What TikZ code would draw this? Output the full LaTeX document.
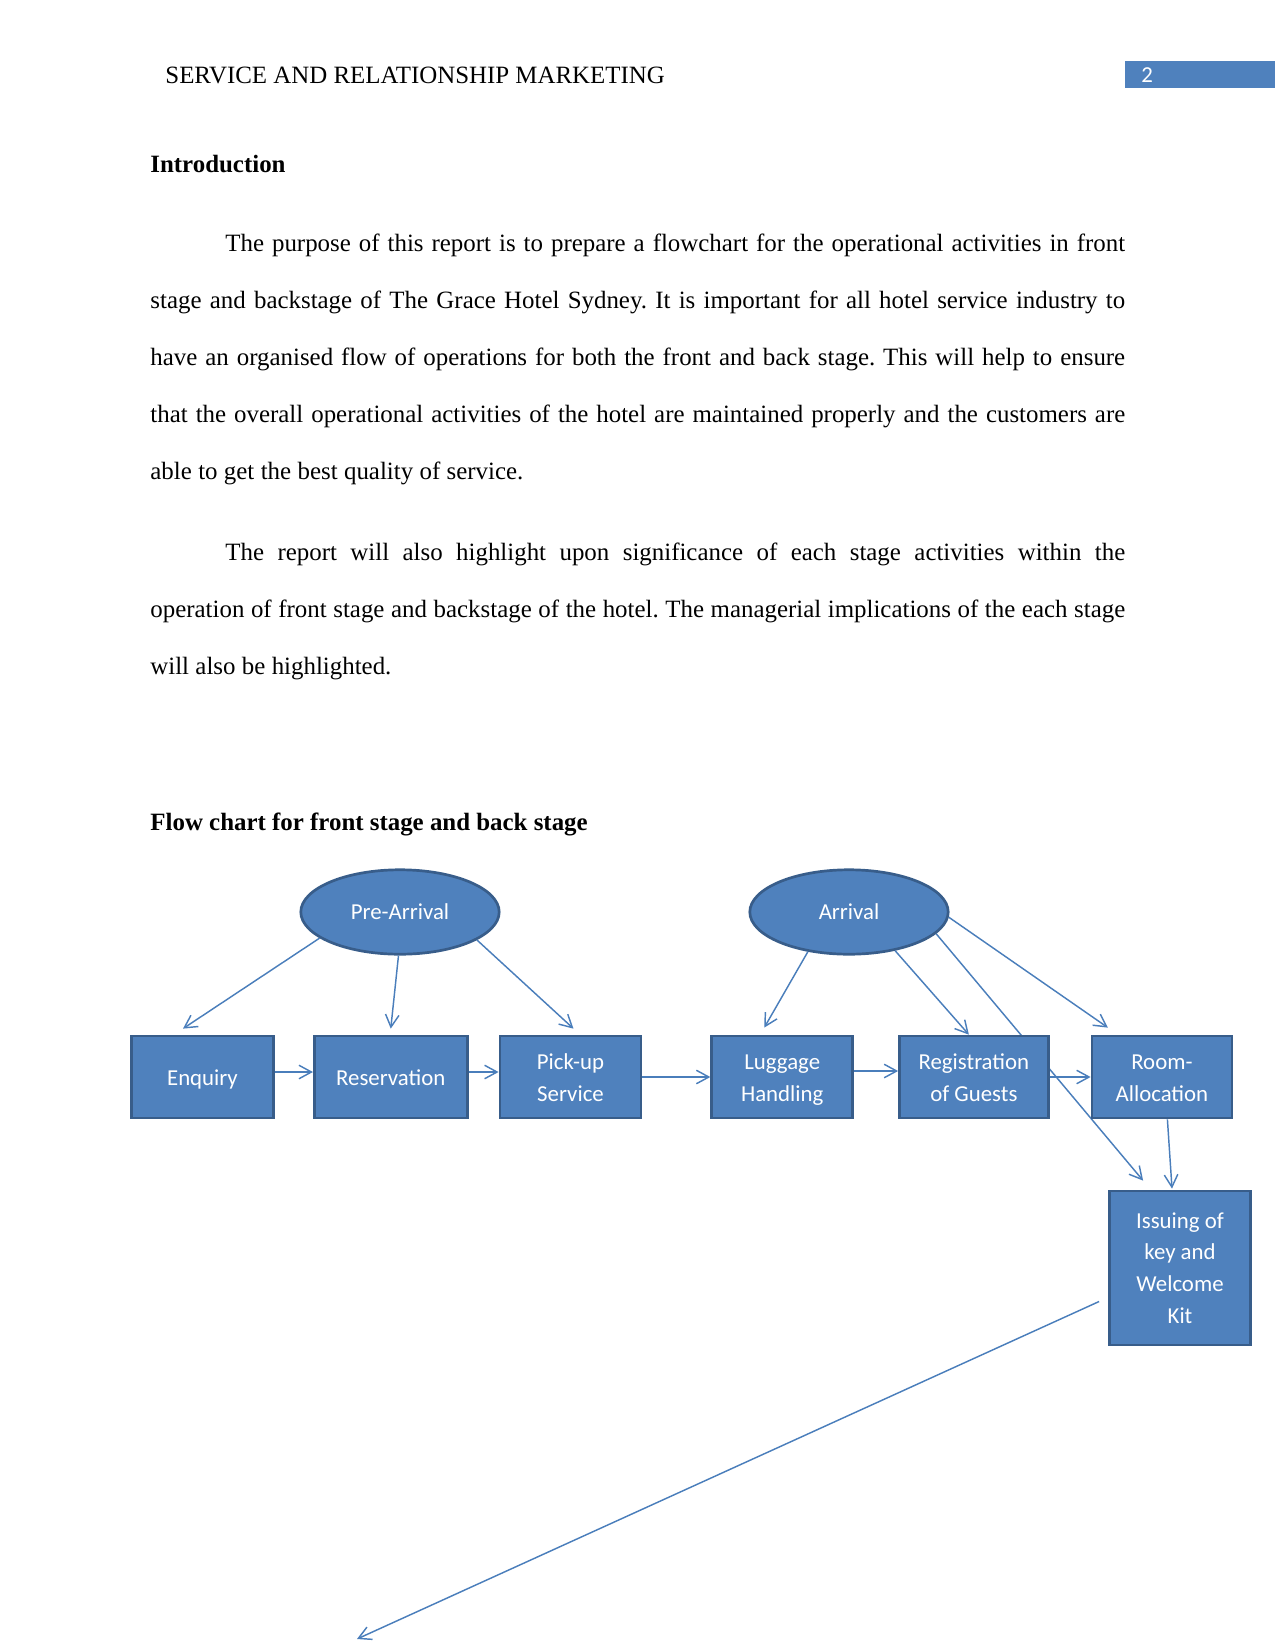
\documentclass[tikz,border=0pt]{standalone}
\usepackage{fontspec}
\setmainfont{Liberation Serif}
\newfontfamily\calibri{Carlito}
\usepackage{tikz}
\usetikzlibrary{shapes.geometric, arrows.meta, positioning, backgrounds, calc}
\definecolor{boxblue}{HTML}{4F81BD}
\definecolor{boxline}{HTML}{385D8A}
\definecolor{linkblue}{HTML}{4A7EBB}
\frenchspacing
\newcommand{\bodyfont}{\fontsize{12}{27.5}\selectfont}
\newcommand{\shapefont}{\calibri\fontsize{11}{15.3}\selectfont}
% words of a line spread over a fixed width
\newcommand{\gapfill}{\hskip 0pt plus 1fil minus 1fil\relax}
\def\splitwords#1 #2\endwords{#1\ifx\relax#2\relax\else\gapfill\splitwords#2\endwords\fi}
\newcommand{\spreadline}[2]{\leavevmode\hbox to #1{\splitwords#2 \endwords}}
% label lines sit on fixed ascent/descent
\newcommand{\lbl}[1]{\rule{0pt}{11pt}#1\rule[-2.5pt]{0pt}{2.5pt}}

\begin{document}
\begin{tikzpicture}[
    x=0.016933cm, y=-0.016933cm,
    every node/.style={font=\bodyfont},
    stage/.style={ellipse, draw=boxline, line width=1.3pt, fill=boxblue, text=white, minimum width=3.36cm, minimum height=1.43cm, inner sep=0pt, font=\shapefont},
    task/.style={rectangle, draw=boxline, line width=1.3pt, fill=boxblue, text=white, align=center, minimum width=2.39cm, minimum height=1.39cm, inner sep=2pt, font=\shapefont},
    para/.style={anchor=base west, inner sep=0pt, text width=6.5in, align=left},
    arrow/.style={-{Straight Barb[length=6pt, width=6.5pt]}, draw=linkblue, line width=0.7pt}
]
\useasboundingbox (0,0) rectangle (1275,1650);

% --- Page header ---
\fill[boxblue] (1125,61) rectangle (1275,88);
\node[anchor=base west, inner sep=0pt] (runhead) at (165,83) {SERVICE AND RELATIONSHIP MARKETING};
\node[anchor=base west, inner sep=0pt, text=white, font=\shapefont] (pageno) at (1141,82) {2};

% --- Introduction ---
\node[anchor=base west, inner sep=0pt, font=\bodyfont\bfseries] (introhead) at (150,172) {Introduction};
\node[para] (intropara) at (150,251.5) {%
\spreadline{6.5in}{\hspace{0.5in}The purpose of this report is to prepare a flowchart for the operational activities in front}\\
\spreadline{6.5in}{stage and backstage of The Grace Hotel Sydney. It is important for all hotel service industry to}\\
\spreadline{6.5in}{have an organised flow of operations for both the front and back stage. This will help to ensure}\\
\spreadline{6.5in}{that the overall operational activities of the hotel are maintained properly and the customers are}\\
\spreadline{2.487in}{able to get the best quality of service.}};
\node[para] (reportpara) at (150,560.5) {%
\spreadline{6.5in}{\hspace{0.5in}The report will also highlight upon significance of each stage activities within the}\\
\spreadline{6.5in}{operation of front stage and backstage of the hotel. The managerial implications of the each stage}\\
\spreadline{1.607in}{will also be highlighted.}};
\node[anchor=base west, inner sep=0pt, font=\bodyfont\bfseries] (flowhead) at (150,830) {Flow chart for front stage and back stage};

% --- Stages ---
\node[stage] (prearr) at (400,912) {Pre-Arrival};
\node[stage] (arrival) at (849,912) {Arrival};

% --- Activities ---
\node[task, minimum width=2.41cm] (enquiry) at (202.5,1077) {\lbl{Enquiry}};
\node[task, minimum width=2.59cm, right=0.643cm of enquiry] (reserv) {\lbl{Reservation}};
\node[task, right=0.508cm of reserv] (pickup) {\lbl{Pick-up\\Service}};
\node[task, right=1.151cm of pickup] (luggage) {\lbl{Luggage\\Handling}};
\node[task, minimum width=2.52cm, right=0.745cm of luggage] (regist) {\lbl{Registration\\of Guests}};
\node[task, minimum width=2.37cm, right=0.694cm of regist] (room) {\lbl{Room-\\Allocation}};
\node[task, minimum height=2.61cm] (keykit) at (1180,1268) {Issuing of\\key and\\Welcome\\Kit};

% --- Pre-arrival links ---
\draw[arrow] (prearr.198) -- ($(enquiry.north)+(-19.5,-6)$);
\draw[arrow] (prearr.268) -- ($(reserv.north)+(0,-6)$);
\draw[arrow] (prearr.340) -- ($(pickup.north)+(3,-6)$);

% --- Row links ---
\draw[arrow] ($(enquiry.east)+(0,-5)$) -- ($(reserv.west)+(0,-5)$);
\draw[arrow] ($(reserv.east)+(0,-5)$) -- ($(pickup.west)+(0,-5)$);
\draw[arrow] (pickup.east) -- (luggage.west);
\draw[arrow] ($(luggage.east)+(0,-6)$) -- ($(regist.west)+(0,-6)$);
\draw[arrow] (regist.east) -- (room.west);

% --- Arrival links ---
\draw[arrow] (arrival.224) -- ($(luggage.north)+(-18,-7)$);
\draw[arrow] (arrival.320) -- ($(regist.north)+(-5,0)$);
\draw[arrow] (arrival.357) -- ($(room.north)+(-54,-7)$);
\draw[arrow] ($(room.south)+(5.5,0)$) -- ($(keykit.north)+(-8,-1)$);
% runs behind the registration box
\begin{scope}[on background layer]
\draw[arrow] (arrival.346) -- ($(keykit.north west)+(35,-9)$);
\end{scope}

% --- Loose end ---
\coordinate (loose) at (357,1639);
\draw[arrow] ($(keykit.west)+(-9,33.5)$) -- (loose);

\end{tikzpicture}
\end{document}
